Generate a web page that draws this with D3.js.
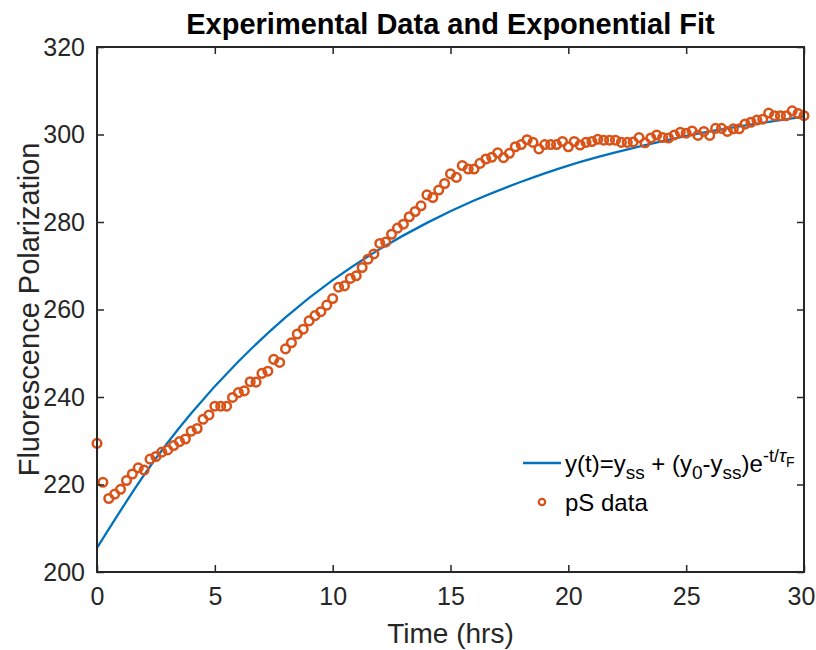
<!DOCTYPE html>
<html>
<head>
<meta charset="utf-8">
<script src="https://cdn.jsdelivr.net/npm/d3@7"></script>
<style>
  body { margin: 0; background: #fff; }
  svg { display: block; font-family: "Liberation Sans", Arial, sans-serif; }
</style>
</head>
<body>
<svg id="canves" width="816" height="650"></svg>
<script>
// time of each pS sample (hrs)
let sampleTime = [
  0, 0.25, 0.5, 0.75, 1, 1.25, 1.5, 1.75, 2, 2.25, 2.5, 2.75, 3, 3.25, 3.5, 3.75,
  4, 4.25, 4.5, 4.75, 5, 5.25, 5.5, 5.75, 6, 6.25, 6.5, 6.75, 7, 7.25, 7.5, 7.75,
  8, 8.25, 8.5, 8.75, 9, 9.25, 9.5, 9.75, 10, 10.25, 10.5, 10.75, 11, 11.25, 11.5, 11.75,
  12, 12.25, 12.5, 12.75, 13, 13.25, 13.5, 13.75, 14, 14.25, 14.5, 14.75, 15, 15.25, 15.5, 15.75,
  16, 16.25, 16.5, 16.75, 17, 17.25, 17.5, 17.75, 18, 18.25, 18.5, 18.75, 19, 19.25, 19.5, 19.75,
  20, 20.25, 20.5, 20.75, 21, 21.25, 21.5, 21.75, 22, 22.25, 22.5, 22.75, 23, 23.25, 23.5, 23.75,
  24, 24.25, 24.5, 24.75, 25, 25.25, 25.5, 25.75, 26, 26.25, 26.5, 26.75, 27, 27.25, 27.5, 27.75,
  28, 28.25, 28.5, 28.75, 29, 29.25, 29.5, 29.75, 30
];

// measured fluorescence polarization
let pSData = [
  229.4, 220.5, 216.8, 217.8, 218.9, 220.9, 222.4, 223.8, 223.3, 225.8, 226.4, 227.4, 227.9, 228.9, 229.8, 230.4,
  232.2, 232.8, 234.9, 235.9, 237.9, 237.9, 237.9, 239.9, 241.0, 241.4, 243.5, 243.4, 245.4, 245.9, 248.6, 247.9,
  251.0, 252.4, 254.4, 255.5, 257.4, 258.6, 259.5, 261.0, 262.5, 265.1, 265.4, 267.1, 267.7, 269.6, 271.5, 272.7,
  275.1, 275.4, 277.2, 278.6, 279.5, 281.2, 282.4, 283.7, 286.2, 285.6, 287.3, 288.8, 291.0, 290.2, 292.9, 292.1,
  292.1, 293.4, 294.4, 294.8, 295.8, 294.7, 295.7, 297.2, 297.7, 298.8, 298.2, 296.7, 297.7, 297.7, 297.7, 298.4,
  297.2, 298.4, 297.6, 298.2, 298.4, 298.9, 298.7, 298.7, 298.7, 298.2, 298.2, 298.3, 299.3, 298.1, 299.2, 299.9,
  299.3, 299.2, 299.9, 300.5, 300.3, 300.8, 299.8, 300.7, 299.8, 301.4, 301.4, 300.7, 301.3, 301.3, 302.4, 302.8,
  303.3, 303.5, 304.9, 304.3, 304.3, 304.3, 305.4, 304.8, 304.3
];

// exponential fit
let fitTime = [0, 2, 4, 6, 8, 10, 12, 14, 16, 18, 20, 22, 24, 26, 28, 30];
let fitValues = [205.5, 222.2, 236.3, 248.1, 258.2, 266.7, 273.8, 279.8, 284.9, 289.2, 292.9, 295.9, 298.5, 300.7, 302.5, 304.1];

let xTicks = [0, 5, 10, 15, 20, 25, 30];
let yTicks = [200, 220, 240, 260, 280, 300, 320];

let plotLeft = 97, plotRight = 804, plotTop = 47, plotBottom = 572;
let axisColor = "#262626";
let lineColor = "#0072BD";
let markColor = "#D95319";

let canves = d3.select("#canves");

let xScale = d3.scaleLinear().domain([0, 30]).range([plotLeft, plotRight]);
let yScale = d3.scaleLinear().domain([200, 320]).range([plotBottom, plotTop]);

// fit line
let fitLine = d3.line()
  .x((d, i) => xScale(fitTime[i]))
  .y((d) => yScale(d))
  .curve(d3.curveNatural);

canves.append("path")
  .datum(fitValues)
  .attr("d", fitLine)
  .attr("fill", "none")
  .attr("stroke", lineColor)
  .attr("stroke-width", 2.3);

// data markers
canves.selectAll("circle.pt")
  .data(pSData)
  .enter()
  .append("circle")
  .attr("class", "pt")
  .attr("cx", (d, i) => xScale(sampleTime[i]))
  .attr("cy", (d) => yScale(d))
  .attr("r", 4.3)
  .attr("fill", "none")
  .attr("stroke", markColor)
  .attr("stroke-width", 2.5);

// axes: bottom/left with labels, top/right ticks only
let tickLen = 7;
let styleAxis = (g) => {
  g.select(".domain").remove();
  g.selectAll(".tick line").attr("stroke", axisColor).attr("stroke-width", 1.5);
  g.selectAll(".tick text")
    .attr("fill", axisColor)
    .style("font-size", "25px")
    .style("font-family", "Liberation Sans, Arial, sans-serif");
};

let xAxisG = canves.append("g")
  .attr("transform", "translate(0," + plotBottom + ")")
  .call(d3.axisBottom(xScale).tickValues(xTicks).tickSizeInner(-tickLen).tickSizeOuter(0).tickPadding(15).tickFormat(d3.format("d")))
  .call(styleAxis);

// keep the last label inside the page
xAxisG.selectAll(".tick text").filter((d) => d === 30).attr("dx", -3);

canves.append("g")
  .attr("transform", "translate(0," + plotTop + ")")
  .call(d3.axisTop(xScale).tickValues(xTicks).tickSizeInner(-tickLen).tickSizeOuter(0).tickFormat(""))
  .call(styleAxis);

canves.append("g")
  .attr("transform", "translate(" + plotLeft + ",0)")
  .call(d3.axisLeft(yScale).tickValues(yTicks).tickSizeInner(-tickLen).tickSizeOuter(0).tickPadding(12).tickFormat(d3.format("d")))
  .call(styleAxis);

canves.append("g")
  .attr("transform", "translate(" + plotRight + ",0)")
  .call(d3.axisRight(yScale).tickValues(yTicks).tickSizeInner(-tickLen).tickSizeOuter(0).tickFormat(""))
  .call(styleAxis);

// box
canves.append("rect")
  .attr("x", plotLeft)
  .attr("y", plotTop)
  .attr("width", plotRight - plotLeft)
  .attr("height", plotBottom - plotTop)
  .attr("fill", "none")
  .attr("stroke", axisColor)
  .attr("stroke-width", 2);

// title and axis labels
canves.append("text")
  .attr("x", (plotLeft + plotRight) / 2)
  .attr("y", 34)
  .attr("text-anchor", "middle")
  .attr("font-weight", "bold")
  .attr("font-size", 29)
  .attr("fill", "#000")
  .text("Experimental Data and Exponential Fit");

canves.append("text")
  .attr("x", (plotLeft + plotRight) / 2)
  .attr("y", 643)
  .attr("text-anchor", "middle")
  .attr("font-size", 28)
  .attr("fill", axisColor)
  .text("Time (hrs)");

canves.append("text")
  .attr("transform", "translate(39," + (plotTop + plotBottom) / 2 + ") rotate(-90)")
  .attr("text-anchor", "middle")
  .attr("font-size", 29)
  .attr("fill", axisColor)
  .text("Fluorescence Polarization");

// legend
let legend = canves.append("g");

legend.append("line")
  .attr("x1", 523).attr("x2", 561)
  .attr("y1", 463).attr("y2", 463)
  .attr("stroke", lineColor)
  .attr("stroke-width", 2.3);

let eq = legend.append("text")
  .attr("x", 565)
  .attr("y", 472)
  .attr("font-size", 24)
  .attr("fill", "#000");

eq.append("tspan").text("y(t)=y");
eq.append("tspan").attr("font-size", 19).attr("dy", 7).text("ss");
eq.append("tspan").attr("dy", -7).text(" + (y");
eq.append("tspan").attr("font-size", 19).attr("dy", 7).text("0");
eq.append("tspan").attr("dy", -7).text("-y");
eq.append("tspan").attr("font-size", 19).attr("dy", 7).text("ss");
eq.append("tspan").attr("dy", -7).text(")e");
eq.append("tspan").attr("font-size", 18).attr("dy", -10).text("-t/");
eq.append("tspan").attr("font-size", 19).attr("font-style", "italic").text("\u03C4");
eq.append("tspan").attr("font-size", 14).attr("dy", 5).text("F");

legend.append("circle")
  .attr("cx", 542)
  .attr("cy", 502)
  .attr("r", 3.2)
  .attr("fill", "none")
  .attr("stroke", markColor)
  .attr("stroke-width", 2.2);

legend.append("text")
  .attr("x", 565)
  .attr("y", 511)
  .attr("font-size", 24)
  .attr("fill", "#000")
  .text("pS data");
</script>
</body>
</html>
